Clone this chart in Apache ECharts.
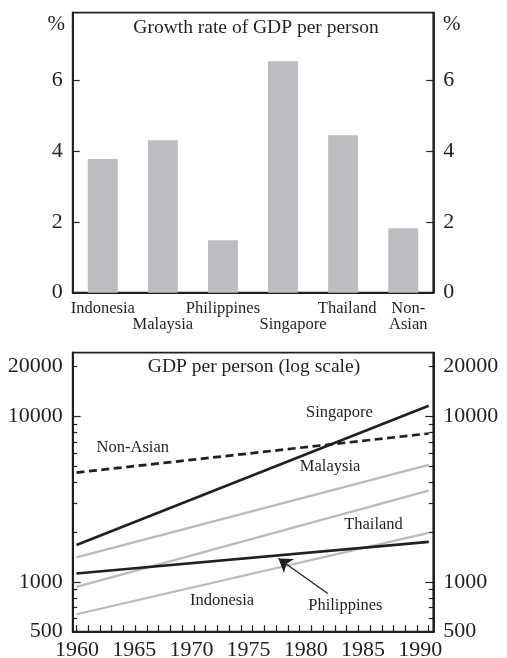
<!DOCTYPE html>
<html>
<head>
<meta charset="utf-8">
<script src="https://cdn.jsdelivr.net/npm/echarts@6/dist/echarts.min.js"></script>
<style>
  html, body { margin: 0; padding: 0; background: #ffffff; }
  #chart { width: 507px; height: 658px; }
</style>
</head>
<body>
<div id="chart"></div>
<script>
// Average annual growth of GDP per person, 1960-1990 (%)
const countries = ['Indonesia', 'Malaysia', 'Philippines', 'Singapore', 'Thailand', 'Non-Asian'];
const growthRates = [3.77, 4.30, 1.48, 6.53, 4.44, 1.82];
const countryTickLabels = ['Indonesia', '\nMalaysia', 'Philippines', '\nSingapore', 'Thailand', 'Non-\nAsian'];
const growthTickLabels = [0, 2, 4, 6];

// GDP per person at the start and end of the period (log scale panel)
const years = [1960, 1990];
const gdpSingapore = [1669, 11600];
const gdpNonAsian = [4580, 7890];
const gdpMalaysia = [1406, 5100];
const gdpThailand = [933, 3560];
const gdpIndonesia = [637, 1980];
const gdpPhilippines = [1124, 1748];

const yearTickLabels = [1960, 1965, 1970, 1975, 1980, 1985, 1990];
const gdpTickLabels = [500, 1000, 10000, 20000];
const gdpMajorTicks = [1000, 10000];
const gdpMinorTicks = [600, 700, 800, 900, 2000, 3000, 4000, 5000, 6000, 7000, 8000, 9000, 20000];

const yearTicks = [];
for (let y = 1960; y <= 1990; y++) yearTicks.push(y);

const INK = '#231f20';
const GREY = '#b9babc';
const FONT = 'Liberation Serif';

const chart = echarts.init(document.getElementById('chart'), null, { renderer: 'canvas' });

const pair = (xs, ys) => xs.map((x, i) => [x, ys[i]]);
const plain = v => String(Math.round(v));

// Small horizontal nudges for some category names
const shiftStyle = { 3: 'sg', 4: 'th', 5: 'na' };

const frameAxisLine = { show: true, lineStyle: { color: INK, width: 1.8 } };

function gdpAxis(position, withLabels, ticks, tickLen) {
  return {
    type: 'log',
    logBase: 10,
    gridIndex: 1,
    position: position,
    min: 500,
    max: 24300,
    axisLine: frameAxisLine,
    splitLine: { show: false },
    axisTick: {
      show: true, inside: true, length: tickLen,
      customValues: ticks,
      lineStyle: { color: INK, width: 1.2 }
    },
    axisLabel: withLabels ? {
      show: true, customValues: gdpTickLabels, margin: 10,
      color: INK, fontFamily: FONT, fontSize: 22, formatter: plain
    } : { show: false }
  };
}

function growthAxis(position) {
  return {
    type: 'value',
    gridIndex: 0,
    position: position,
    min: 0,
    max: 7.9,
    axisLine: frameAxisLine,
    splitLine: { show: false },
    axisTick: {
      show: true, inside: true, length: 7,
      customValues: [2, 4, 6],
      lineStyle: { color: INK, width: 1.2 }
    },
    axisLabel: {
      customValues: growthTickLabels, margin: 10,
      color: INK, fontFamily: FONT, fontSize: 22, formatter: plain
    }
  };
}

function note(name, x, y) {
  return { name: name, coord: [x, y] };
}

const noteLabel = { show: true, position: 'inside', formatter: '{b}', fontFamily: FONT, fontSize: 16.5, color: INK };

const option = {
  animation: false,
  backgroundColor: '#ffffff',
  textStyle: { fontFamily: FONT, color: INK },
  grid: [
    { left: 72.7, top: 12.7, width: 360.6, height: 280, show: true, borderColor: INK, borderWidth: 1.8, containLabel: false, outerBoundsMode: 'none' },
    { left: 72.7, top: 352.7, width: 360.6, height: 279, show: true, borderColor: INK, borderWidth: 1.8, containLabel: false, outerBoundsMode: 'none' }
  ],
  xAxis: [
    {
      type: 'category',
      gridIndex: 0,
      data: countries,
      axisLine: frameAxisLine,
      axisTick: { show: false },
      axisLabel: {
        interval: 0,
        margin: 8,
        color: INK,
        fontFamily: FONT,
        fontSize: 16.5,
        lineHeight: 16,
        formatter: (v, i) => {
          const t = countryTickLabels[i];
          const s = shiftStyle[i];
          if (!s) return t;
          return t.split('\n').map(l => (l ? '{' + s + '|' + l + '}' : '')).join('\n');
        },
        rich: {
          sg: { padding: [0, 0, 0, 20], fontSize: 16.5, lineHeight: 16, fontFamily: FONT, color: INK },
          th: { padding: [0, 0, 0, 8], fontSize: 16.5, lineHeight: 16, fontFamily: FONT, color: INK },
          na: { padding: [0, 0, 0, 10], fontSize: 16.5, lineHeight: 16, fontFamily: FONT, color: INK }
        }
      }
    },
    {
      // year axis carrying the yearly ticks
      type: 'value',
      gridIndex: 1,
      position: 'bottom',
      min: 1959.68,
      max: 1990.39,
      axisLine: frameAxisLine,
      splitLine: { show: false },
      axisTick: {
        show: true, inside: true, length: 6.5,
        customValues: yearTicks,
        lineStyle: { color: INK, width: 1.2 }
      },
      axisLabel: { show: false }
    },
    {
      // year axis carrying the five-yearly labels
      type: 'value',
      gridIndex: 1,
      position: 'bottom',
      min: 1959.62,
      max: 1991.15,
      axisLine: { show: false },
      axisTick: { show: false },
      splitLine: { show: false },
      axisLabel: {
        customValues: yearTickLabels, margin: 8,
        color: INK, fontFamily: FONT, fontSize: 22, formatter: plain
      }
    }
  ],
  yAxis: [
    growthAxis('left'),
    growthAxis('right'),
    gdpAxis('left', true, gdpMajorTicks, 8),
    gdpAxis('left', false, gdpMinorTicks, 4.5),
    gdpAxis('right', true, gdpMajorTicks, 8),
    gdpAxis('right', false, gdpMinorTicks, 4.5)
  ],
  graphic: [
    { type: 'text', x: 256, y: 28, style: { text: 'Growth rate of GDP per person', fontFamily: FONT, fontSize: 19.5, fill: INK, align: 'center', verticalAlign: 'middle' } },
    { type: 'text', x: 254, y: 367, style: { text: 'GDP per person (log scale)', fontFamily: FONT, fontSize: 19.5, fill: INK, align: 'center', verticalAlign: 'middle' } },
    { type: 'text', x: 65, y: 24, style: { text: '%', fontFamily: FONT, fontSize: 21, fill: INK, align: 'right', verticalAlign: 'middle' } },
    { type: 'text', x: 443, y: 24, style: { text: '%', fontFamily: FONT, fontSize: 21, fill: INK, align: 'left', verticalAlign: 'middle' } }
  ],
  series: [
    {
      type: 'bar',
      xAxisIndex: 0,
      yAxisIndex: 0,
      data: growthRates,
      barWidth: 30,
      itemStyle: { color: '#bcbdc0' },
      silent: true
    },
    {
      name: 'Malaysia', type: 'line', xAxisIndex: 1, yAxisIndex: 2,
      data: pair(years, gdpMalaysia), showSymbol: false, silent: true,
      lineStyle: { color: GREY, width: 2.2 },
      markPoint: { symbolSize: 0, silent: true, label: noteLabel, data: [note('Malaysia', 1981.6, 4977)] }
    },
    {
      name: 'Thailand', type: 'line', xAxisIndex: 1, yAxisIndex: 2,
      data: pair(years, gdpThailand), showSymbol: false, silent: true,
      lineStyle: { color: GREY, width: 2.2 },
      markPoint: { symbolSize: 0, silent: true, label: noteLabel, data: [note('Thailand', 1985.3, 2207)] }
    },
    {
      name: 'Indonesia', type: 'line', xAxisIndex: 1, yAxisIndex: 2,
      data: pair(years, gdpIndonesia), showSymbol: false, silent: true,
      lineStyle: { color: GREY, width: 2.2 },
      markPoint: { symbolSize: 0, silent: true, label: noteLabel, data: [note('Indonesia', 1972.4, 767)] }
    },
    {
      name: 'Non-Asian', type: 'line', xAxisIndex: 1, yAxisIndex: 2,
      data: pair(years, gdpNonAsian), showSymbol: false, silent: true,
      lineStyle: { color: INK, width: 2.7, type: [8, 4.5] },
      markPoint: { symbolSize: 0, silent: true, label: noteLabel, data: [note('Non-Asian', 1964.8, 6435)] }
    },
    {
      name: 'Singapore', type: 'line', xAxisIndex: 1, yAxisIndex: 2,
      data: pair(years, gdpSingapore), showSymbol: false, silent: true,
      lineStyle: { color: INK, width: 2.7 },
      markPoint: { symbolSize: 0, silent: true, label: noteLabel, data: [note('Singapore', 1982.4, 10570)] }
    },
    {
      name: 'Philippines', type: 'line', xAxisIndex: 1, yAxisIndex: 2,
      data: pair(years, gdpPhilippines), showSymbol: false, silent: true,
      lineStyle: { color: INK, width: 2.7 },
      markPoint: { symbolSize: 0, silent: true, label: noteLabel, data: [note('Philippines', 1982.9, 722)] },
      markLine: {
        silent: true,
        symbol: ['none', 'arrow'],
        symbolSize: 13,
        label: { show: false },
        lineStyle: { color: INK, width: 1.3, type: 'solid' },
        itemStyle: { color: INK },
        data: [[{ coord: [1981.4, 851] }, { coord: [1977.2, 1386] }]]
      }
    }
  ]
};

chart.setOption(option);
</script>
</body>
</html>
